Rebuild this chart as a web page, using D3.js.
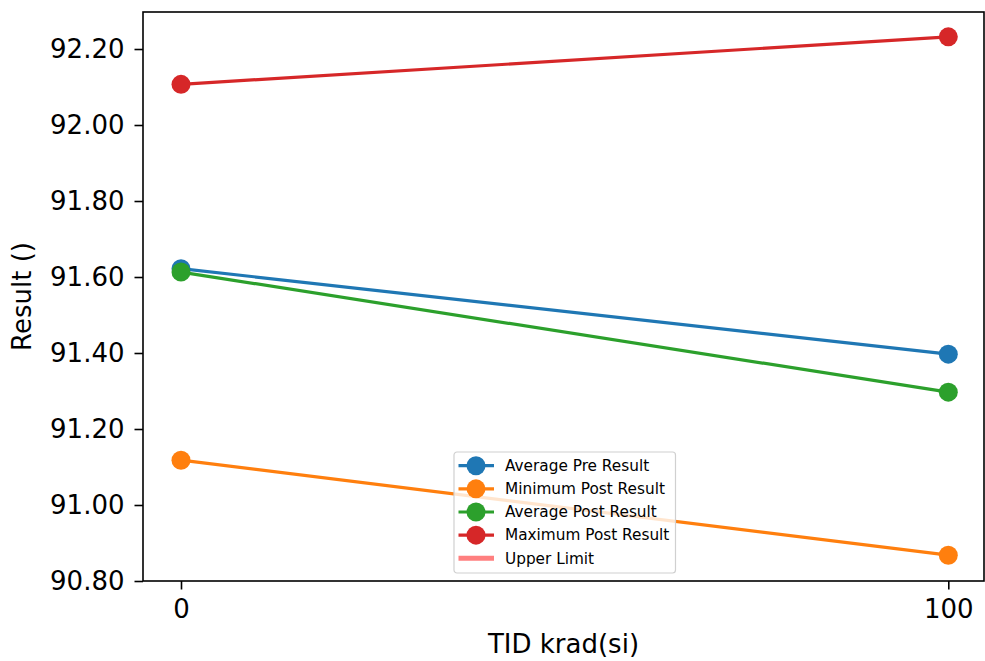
<!DOCTYPE html>
<html><head><meta charset="utf-8">
<script src="https://cdn.jsdelivr.net/npm/d3@7"></script>
<style>body{margin:0;background:#fff}svg text{font-family:"DejaVu Sans",sans-serif;fill:#000}</style>
</head><body><svg id="c" width="985" height="661"></svg>
<script>
const xValues = [0, 100];
const avgPre = [91.622, 91.397];
const minPost = [91.118, 90.868];
const avgPost = [91.613, 91.297];
const maxPost = [92.107, 92.232];
const yTicks = [90.8, 91.0, 91.2, 91.4, 91.6, 91.8, 92.0, 92.2];
const xTicks = [0, 100];
const seriesNames = ["Average Pre Result", "Minimum Post Result", "Average Post Result", "Maximum Post Result"];
const seriesColors = ["#1f77b4", "#ff7f0e", "#2ca02c", "#d62728"];
const seriesData = [avgPre, minPost, avgPost, maxPost];
const limitName = "Upper Limit";
const limitColor = "#ff7f7f";

const svg = d3.select("#c");
const L = 143, R = 984, T = 12, B = 581;
const x = d3.scaleLinear().domain([0, 100]).range([181, 948.3]);
const y = d3.scaleLinear().domain([90.8, 92.2974]).range([B, T]);

const plot = svg.append("g");
seriesData.forEach((vals, i) => {
  const pts = xValues.map((xv, j) => [xv, vals[j]]);
  plot.append("path").datum(pts)
    .attr("d", d3.line().x(d => x(d[0])).y(d => y(d[1])))
    .attr("fill", "none").attr("stroke", seriesColors[i]).attr("stroke-width", 3.2);
  plot.selectAll(null).data(pts).enter().append("circle")
    .attr("cx", d => x(d[0])).attr("cy", d => y(d[1])).attr("r", 9.5)
    .attr("fill", seriesColors[i]);
});

const yAxis = d3.axisLeft(y).tickValues(yTicks).tickFormat(d3.format(".2f")).tickSize(8.5).tickPadding(10);
const gy = svg.append("g").attr("transform", `translate(${L},0)`).call(yAxis);
const xAxis = d3.axisBottom(x).tickValues(xTicks).tickFormat(d3.format("d")).tickSize(8.5).tickPadding(10.5);
const gx = svg.append("g").attr("transform", `translate(0,${B})`).call(xAxis);
[gx, gy].forEach(g => {
  g.select(".domain").remove();
  g.selectAll(".tick line").attr("stroke", "#000").attr("stroke-width", 1.6);
  g.selectAll(".tick text").attr("font-size", 26).attr("font-family", "DejaVu Sans");
});
svg.append("rect").attr("x", L).attr("y", T).attr("width", R - L).attr("height", B - T)
  .attr("fill", "none").attr("stroke", "#000").attr("stroke-width", 1.6);

svg.append("text").attr("x", (L + R) / 2).attr("y", 653).attr("text-anchor", "middle")
  .attr("font-size", 26).text("TID krad(si)");
svg.append("text").attr("transform", `translate(31,${(T + B) / 2}) rotate(-90)`)
  .attr("text-anchor", "middle").attr("font-size", 26).text("Result ()");

// legend
const lg = svg.append("g").attr("transform", "translate(454,452)");
lg.append("rect").attr("x", 0).attr("y", 0).attr("width", 221.5).attr("height", 121).attr("rx", 3)
  .attr("fill", "#fff").attr("fill-opacity", 0.8).attr("stroke", "#d0d0d0").attr("stroke-width", 1.2);
seriesNames.forEach((n, i) => {
  const cy = 13.7 + i * 23.15;
  lg.append("line").attr("x1", 4.5).attr("x2", 40).attr("y1", cy).attr("y2", cy)
    .attr("stroke", seriesColors[i]).attr("stroke-width", 3.2);
  lg.append("circle").attr("cx", 22).attr("cy", cy).attr("r", 9.5).attr("fill", seriesColors[i]);
  lg.append("text").attr("x", 51).attr("y", cy + 5.3).attr("font-size", 15.3).text(n);
});
{
  const cy = 13.7 + 4 * 23.15;
  lg.append("line").attr("x1", 4.5).attr("x2", 40).attr("y1", cy).attr("y2", cy)
    .attr("stroke", limitColor).attr("stroke-width", 5);
  lg.append("text").attr("x", 51).attr("y", cy + 5.3).attr("font-size", 15.3).text(limitName);
}
</script></body></html>
